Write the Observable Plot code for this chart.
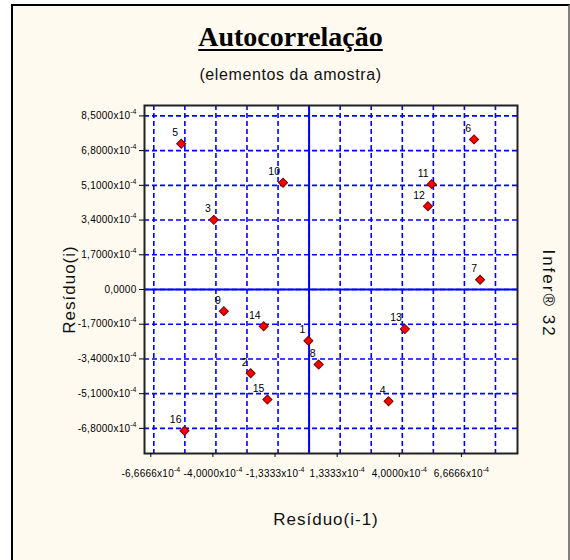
<!DOCTYPE html>
<html><head><meta charset="utf-8">
<script src="https://cdn.jsdelivr.net/npm/d3@7"></script>
<script src="https://cdn.jsdelivr.net/npm/@observablehq/plot@0.6"></script>
<style>
html,body{margin:0;padding:0;background:#fff;}
#box{position:absolute;left:11px;top:4px;width:559px;height:620px;background:#FFFAF0;border-left:2px solid #000;border-top:2px solid #000;border-right:2px solid #808080;box-sizing:border-box;}
#title{position:absolute;left:11px;width:559px;top:22px;text-align:center;font-family:"Liberation Serif","Times New Roman",serif;font-weight:bold;font-size:28px;line-height:30px;text-decoration:underline;text-decoration-thickness:2px;text-underline-offset:3px;color:#000;}
#subtitle{position:absolute;left:11px;width:559px;top:66px;text-align:center;font-family:"Liberation Sans",Arial,sans-serif;font-size:16px;line-height:18px;color:#111;letter-spacing:0.6px;}
#chart{position:absolute;left:0;top:90px;}
</style>
</head><body>
<div id="box"></div>
<div id="title">Autocorrelação</div>
<div id="subtitle">(elementos da amostra)</div>
<div id="chart"></div>
<script>
// Point numbers
const ids = [1,2,3,4,5,6,7,8,9,10,11,12,13,14,15,16];
// Resíduo(i-1) in units of 1e-4
const resPrev = [-0.03,-2.51,-4.09,3.41,-5.49,7.08,7.34,0.41,-3.66,-1.12,5.26,5.10,4.11,-1.95,-1.79,-5.35];
// Resíduo(i) in units of 1e-4
const resCur = [-2.51,-4.10,3.41,-5.47,7.14,7.35,0.475,-3.67,-1.06,5.23,5.16,4.08,-1.93,-1.80,-5.39,-6.92];

// Grid / tick values (units of 1e-4)
const xGrid = [-6.6666,-5.3333,-4.0,-2.6667,-1.3333,0,1.3333,2.6667,4.0,5.3333,6.6666,8.0];
const xTicks = [-6.6666,-4.0,-1.3333,1.3333,4.0,6.6666];
const xTickLabels = ["-6,6666x10^-4","-4,0000x10^-4","-1,3333x10^-4","1,3333x10^-4","4,0000x10^-4","6,6666x10^-4"];
const yTicks = [8.5,6.8,5.1,3.4,1.7,0,-1.7,-3.4,-5.1,-6.8];
const yTickLabels = ["8,5000x10^-4","6,8000x10^-4","5,1000x10^-4","3,4000x10^-4","1,7000x10^-4","0,0000","-1,7000x10^-4","-3,4000x10^-4","-5,1000x10^-4","-6,8000x10^-4"];

const scale = 1e-4;
const points = ids.map((n, i) => ({n: String(n), x: resPrev[i] * scale, y: resCur[i] * scale}));
const xLab = new Map(xTicks.map((v, i) => [v * scale, xTickLabels[i]]));
const yLab = new Map(yTicks.map((v, i) => [v * scale, yTickLabels[i]]));

const blue = "#0000ff";
const chart = Plot.plot({
  width: 570,
  height: 470,
  marginLeft: 144,
  marginRight: 53,
  marginTop: 15,
  marginBottom: 107,
  x: {domain: [-7.066e-4, 8.946e-4]},
  y: {domain: [-8.03e-4, 9.01e-4]},
  style: {background: "transparent", fontFamily: "'Liberation Sans', Arial, sans-serif", color: "#000"},
  marks: [
    Plot.frame({fill: "white", stroke: null}),
    Plot.gridX(xGrid.map(v => v * scale), {stroke: blue, strokeOpacity: 1, strokeWidth: 1.6, strokeDasharray: "5,3"}),
    Plot.gridY(yTicks.map(v => v * scale), {stroke: blue, strokeOpacity: 1, strokeWidth: 1.6, strokeDasharray: "5,3"}),
    Plot.ruleX([0], {stroke: blue, strokeWidth: 2}),
    Plot.ruleY([0], {stroke: blue, strokeWidth: 2}),
    Plot.frame({stroke: "#222", strokeWidth: 2}),
    Plot.axisX(xTicks.map(v => v * scale), {tickSize: 4, tickPadding: 12, tickFormat: d => xLab.get(d), fontSize: 10, dx: -3, label: null, stroke: "#000"}),
    Plot.axisY(yTicks.map(v => v * scale), {tickSize: 5, tickPadding: 3, tickFormat: d => yLab.get(d), fontSize: 10, label: null, stroke: "#000"}),
    Plot.dot(points, {x: "x", y: "y", symbol: "square", rotate: 45, r: 3.6, fill: "#ff0000", stroke: "#7a0000", strokeWidth: 1}),
    Plot.text(points, {x: "x", y: "y", text: "n", textAnchor: "end", dx: -3, dy: -11, fontSize: 10.5, fill: "#000"}),
    Plot.text(["Resíduo(i-1)"], {text: d => d, frameAnchor: "bottom", textAnchor: "middle", lineAnchor: "middle", dx: -5, dy: 66, fontSize: 17, fill: "#111"}),
    Plot.text(["Resíduo(i)"], {text: d => d, frameAnchor: "left", textAnchor: "middle", lineAnchor: "middle", dx: -75, dy: 10, rotate: -90, fontSize: 17, fill: "#111"}),
    Plot.text(["Infer® 32"], {text: d => d, frameAnchor: "right", textAnchor: "middle", lineAnchor: "middle", dx: 31, dy: 14, rotate: 90, fontSize: 17, fill: "#111"})
  ]
});

// render superscript exponents in tick labels, and widen letter spacing like the original
const ns = "http://www.w3.org/2000/svg";
const titles = new Set(["Resíduo(i-1)", "Resíduo(i)", "Infer® 32"]);
chart.querySelectorAll("text").forEach(t => {
  const s = t.textContent;
  if (titles.has(s)) {
    t.setAttribute("letter-spacing", s.startsWith("Infer") ? "2" : "1");
  } else if (s.includes("^") || s === "0,0000") {
    t.setAttribute("letter-spacing", "0.25");
    if (s.includes("^")) {
      const [base, sup] = s.split("^");
      t.textContent = "";
      const a = document.createElementNS(ns, "tspan");
      a.textContent = base;
      const b = document.createElementNS(ns, "tspan");
      b.textContent = sup;
      b.setAttribute("dy", "-5");
      b.setAttribute("font-size", "7");
      b.setAttribute("letter-spacing", "0");
      t.append(a, b);
    }
  }
});
document.getElementById("chart").append(chart);
</script>
</body></html>
